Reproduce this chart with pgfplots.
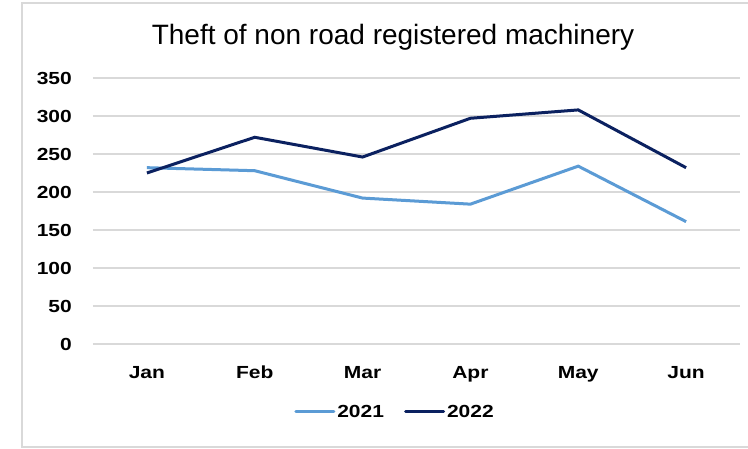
\documentclass[border=0pt]{standalone}
\usepackage{pgfplots}
\pgfplotsset{compat=1.18}
\usepackage{fontspec}
\setmainfont{Liberation Sans}
\newfontfamily\lab[FakeStretch=1.2]{Liberation Sans}
\definecolor{c2021}{HTML}{5B9BD5}
\definecolor{c2022}{HTML}{0B2160}
\definecolor{gridc}{HTML}{D9D9D9}

\begin{document}
\begin{tikzpicture}
\useasboundingbox (0pt,0pt) rectangle (748pt,449pt);
\fill[white] (0pt,0pt) rectangle (748pt,449pt);
\draw[gridc, line width=1.5pt] (22pt,2pt) rectangle (780pt,446pt);
\node[anchor=base, inner sep=0pt, font=\fontsize{28}{32}\selectfont] at (393pt,404pt)
  {Theft of non road registered machinery};
\begin{axis}[
    scale only axis,
    at={(93pt,105pt)}, anchor=south west,
    width=647pt, height=266pt,
    xmin=-0.5, xmax=5.5,
    ymin=0, ymax=350,
    xtick={0,...,5},
    xticklabels={Jan,Feb,Mar,Apr,May,Jun},
    ytick={0,50,...,350},
    axis line style={draw=none},
    major tick length=0pt,
    ymajorgrids=true,
    grid style={gridc, line width=1.5pt},
    /pgf/number format/assume math mode=true,
    tick label style={font=\lab\fontsize{17.5}{20}\selectfont\bfseries, inner sep=0pt},
    xticklabel style={anchor=north, yshift=-22pt},
    yticklabel style={anchor=east, xshift=-21pt},
    legend style={draw=none, fill=none, at={(0.4668,-0.2556)}, anchor=center,
        font=\lab\fontsize{17.5}{20}\selectfont\bfseries,
        /tikz/every even column/.append style={column sep=18pt}},
    legend columns=2,
    legend image code/.code={\draw[#1, line cap=round] (0pt,0pt) -- (38pt,0pt);},
]
\addplot[c2021, line width=3pt] coordinates {
    (0,232) (1,228) (2,192) (3,184) (4,234) (5,161)
};
\addlegendentry{2021}
\addplot[c2022, line width=3pt] coordinates {
    (0,225) (1,272) (2,246) (3,297) (4,308) (5,232)
};
\addlegendentry{2022}
\end{axis}
\end{tikzpicture}
\end{document}
